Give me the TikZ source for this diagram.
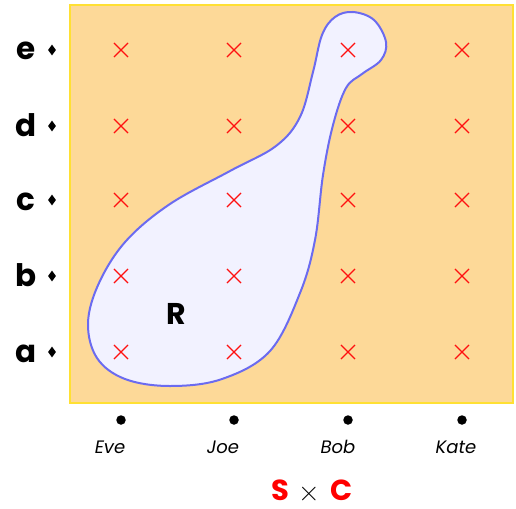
\documentclass[tikz,border=0pt]{standalone}
\usepackage{fontspec}
\setmainfont{Poppins}
\newfontfamily\lmfont{Latin Modern Roman}
\usetikzlibrary{shapes.misc,shapes.geometric}
\definecolor{boxfill}{HTML}{FDD998}
\definecolor{boxline}{HTML}{FFE033}
\definecolor{blobfill}{HTML}{F2F2FF}
\definecolor{blobline}{HTML}{6B6BF0}
\definecolor{xred}{HTML}{FF1010}
\begin{document}
\begin{tikzpicture}[x=1pt,y=-1pt,
  xpt/.style={cross out,draw=xred,line width=1.1pt,minimum size=13pt,inner sep=0pt},
  rowlab/.style={font=\fontsize{31}{32}\selectfont\bfseries,anchor=center,inner sep=0pt},
  dia/.style={diamond,fill=black,inner sep=0pt,minimum width=8pt,minimum height=11pt},
  dotn/.style={circle,fill=black,inner sep=0pt,minimum size=9.5pt},
  whoname/.style={font=\fontsize{18}{20}\selectfont\itshape,inner sep=0pt},
  bigred/.style={font=\fontsize{29}{30}\selectfont\bfseries,text=red,inner sep=0pt}]
\useasboundingbox (0,0) rectangle (516,508);
\node[draw=boxline,fill=boxfill,line width=2pt,minimum width=443pt,minimum height=397pt,inner sep=0pt] (box) at (291,204) {};
\draw[draw=blobline,fill=blobfill,line width=2pt] plot[smooth cycle,tension=0.6] coordinates {
(353,12) (374,20) (386,42) (381,60) (362,74) (346,88) (333,125) (323,175) (315,240) (300,293) (270,351) (222,379) (170,386) (125,379) (97,358) (88,323) (99,283) (126,241) (170,204) (230,171) (276,146) (300,117) (313,72) (322,35) (335,17)};
\node[font=\fontsize{30}{31}\selectfont\bfseries,inner sep=0pt] (R) at (176,314) {R};
% grid
\foreach \c/\x in {0/121,1/234,2/348,3/462}{
  \foreach \r/\y in {a/352,b/276,c/200,d/126,e/50}{
    \node[xpt] (p\c\r) at (\x,\y) {};
  }
}
\foreach \r/\y in {a/352,b/276,c/200,d/126,e/50}{
  \node[rowlab,anchor=base] (l\r) at (26,\y+10) {\r};
  \node[dia] (d\r) at (52,\y) {};
}
\node[dotn] (dEve) at (121,420) {};
\node[dotn] (dJoe) at (234,420) {};
\node[dotn] (dBob) at (348,420) {};
\node[dotn] (dKate) at (462,420) {};
\node[whoname,anchor=base] (nEve) at (110,453) {Eve};
\node[whoname,anchor=base] (nJoe) at (223,453) {Joe};
\node[whoname,anchor=base] (nBob) at (338,453) {Bob};
\node[whoname,anchor=base] (nKate) at (456,453) {Kate};
\node[bigred,anchor=base] (S) at (280,500) {S};
\node[font=\fontsize{30}{31}\selectfont\lmfont,inner sep=0pt] (times) at (309,494) {×};
\node[bigred,anchor=base] (C) at (342,500) {C};
\end{tikzpicture}
\end{document}
